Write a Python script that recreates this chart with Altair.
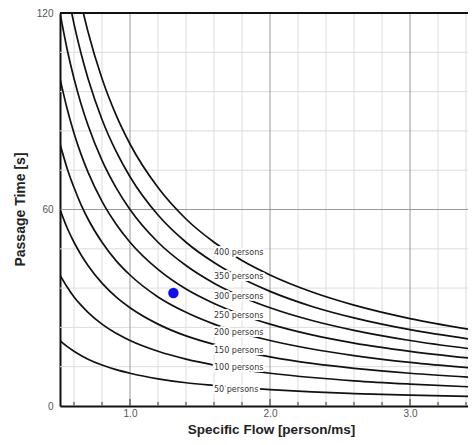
import altair as alt
import pandas as pd

# sample flows (person/ms) at which curve values were read
flows = [0.5, 0.55, 0.6, 0.65, 0.7, 0.8, 0.9, 1.0, 1.2, 1.4, 1.6, 1.8, 2.0, 2.3, 2.6, 3.0, 3.5]
# passage time [s] read per curve (values above 120 are clipped at the frame)
curves = {
    "50 persons":  [20, 18.2, 16.7, 15.4, 14.3, 12.5, 11.1, 10, 8.3, 7.1, 6.3, 5.6, 5.0, 4.3, 3.8, 3.3, 2.9],
    "100 persons": [40, 36.4, 33.3, 30.8, 28.6, 25, 22.2, 20, 16.7, 14.3, 12.5, 11.1, 10, 8.7, 7.7, 6.7, 5.7],
    "150 persons": [60, 54.5, 50, 46.2, 42.9, 37.5, 33.3, 30, 25, 21.4, 18.8, 16.7, 15, 13, 11.5, 10, 8.6],
    "200 persons": [80, 72.7, 66.7, 61.5, 57.1, 50, 44.4, 40, 33.3, 28.6, 25, 22.2, 20, 17.4, 15.4, 13.3, 11.4],
    "250 persons": [100, 90.9, 83.3, 76.9, 71.4, 62.5, 55.6, 50, 41.7, 35.7, 31.3, 27.8, 25, 21.7, 19.2, 16.7, 14.3],
    "300 persons": [120, 109.1, 100, 92.3, 85.7, 75, 66.7, 60, 50, 42.9, 37.5, 33.3, 30, 26.1, 23.1, 20, 17.1],
    "350 persons": [140, 127.3, 116.7, 107.7, 100, 87.5, 77.8, 70, 58.3, 50, 43.8, 38.9, 35, 30.4, 26.9, 23.3, 20],
    "400 persons": [160, 145.5, 133.3, 123.1, 114.3, 100, 88.9, 80, 66.7, 57.1, 50, 44.4, 40, 34.8, 30.8, 26.7, 22.9],
}
label_names = list(curves.keys())
label_x = [1.6] * 8
label_y = [4.9, 11.6, 16.8, 22.3, 27.5, 33.3, 39.4, 46.7]

point_x = [1.31]
point_y = [34.5]

major_x = [1.0, 2.0, 3.0]
minor_x = [0.6, 0.8, 1.2, 1.4, 1.6, 1.8, 2.2, 2.4, 2.6, 2.8, 3.2, 3.4]
major_y = [60]
minor_y = [12, 24, 36, 48, 72, 84, 96, 108]

rows = []
for name, vals in curves.items():
    for f, t in zip(flows, vals):
        rows.append({"name": name, "flow": f, "time": t})
df = pd.DataFrame(rows)
lab = pd.DataFrame({"name": label_names, "x": label_x, "y": label_y})
pt = pd.DataFrame({"x": point_x, "y": point_y})

xs = alt.Scale(domain=[0.5, 3.414], nice=False, zero=False)
ys = alt.Scale(domain=[0, 120], nice=False)

xaxis = alt.Axis(values=major_x, format=".1f", grid=False, ticks=False,
                 domain=True, domainColor="#111", domainWidth=2,
                 labelFont="Liberation Sans", labelFontSize=10, labelColor="#555",
                 labelPadding=2, title="Specific Flow [person/ms]",
                 titleFont="Liberation Sans", titleFontSize=13.5, titleFontWeight="bold",
                 titleColor="#222", titleX=211, titleY=23, titleBaseline="middle")
yaxis = alt.Axis(values=[0, 60, 120], grid=False, ticks=False,
                 domain=True, domainColor="#111", domainWidth=2,
                 labelFont="Liberation Sans", labelFontSize=10, labelColor="#555",
                 labelPadding=7, title="Passage Time [s]",
                 titleFont="Liberation Sans", titleFontSize=14, titleFontWeight="bold",
                 titleColor="#222", titleX=-40, titleY=196, titleBaseline="middle",
                 titleAngle=270)

minor_vx = alt.Chart(pd.DataFrame({"v": minor_x})).mark_rule(color="#dddddd", strokeWidth=1).encode(
    x=alt.X("v:Q", scale=xs))
major_vx = alt.Chart(pd.DataFrame({"v": major_x})).mark_rule(color="#999999", strokeWidth=1).encode(
    x=alt.X("v:Q", scale=xs))
minor_hy = alt.Chart(pd.DataFrame({"v": minor_y})).mark_rule(color="#dddddd", strokeWidth=1).encode(
    y=alt.Y("v:Q", scale=ys))
major_hy = alt.Chart(pd.DataFrame({"v": major_y})).mark_rule(color="#999999", strokeWidth=1).encode(
    y=alt.Y("v:Q", scale=ys))
ticks_minor = alt.Chart(pd.DataFrame({"v": minor_x})).mark_rule(color="#333", strokeWidth=1).encode(
    x=alt.X("v:Q", scale=xs), y=alt.value(393), y2=alt.value(389))
ticks_major = alt.Chart(pd.DataFrame({"v": major_x})).mark_rule(color="#333", strokeWidth=1).encode(
    x=alt.X("v:Q", scale=xs), y=alt.value(393), y2=alt.value(386))

lines = alt.Chart(df).mark_line(color="#111", strokeWidth=1.7, interpolate="monotone", clip=True).encode(
    x=alt.X("flow:Q", scale=xs, axis=xaxis),
    y=alt.Y("time:Q", scale=ys, axis=yaxis),
    detail="name:N")

halo = alt.Chart(lab).mark_text(align="left", baseline="middle", font="DejaVu Sans", fontSize=8,
                                stroke="white", strokeWidth=4, color="white").encode(
    x=alt.X("x:Q", scale=xs), y=alt.Y("y:Q", scale=ys), text="name:N")
text = alt.Chart(lab).mark_text(align="left", baseline="middle", font="DejaVu Sans", fontSize=8,
                                color="#333").encode(
    x=alt.X("x:Q", scale=xs), y=alt.Y("y:Q", scale=ys), text="name:N")

dot = alt.Chart(pt).mark_circle(color="#1010ee", size=110, opacity=1).encode(
    x=alt.X("x:Q", scale=xs), y=alt.Y("y:Q", scale=ys))

top = alt.Chart(pd.DataFrame({"a": [0]})).mark_rule(color="#111", strokeWidth=2).encode(
    x=alt.value(0), x2=alt.value(408), y=alt.value(0))

chart = alt.layer(minor_vx, minor_hy, major_vx, major_hy, ticks_minor, ticks_major,
                  lines, halo, text, dot, top).properties(
    width=408, height=393,
    autosize=alt.AutoSizeParams(type="none"),
    padding={"left": 52, "top": 5, "right": 0, "bottom": 31},
).configure_view(stroke=None).configure(background="white")

chart.save("out.html", embed_options={"renderer": "svg", "actions": False})
